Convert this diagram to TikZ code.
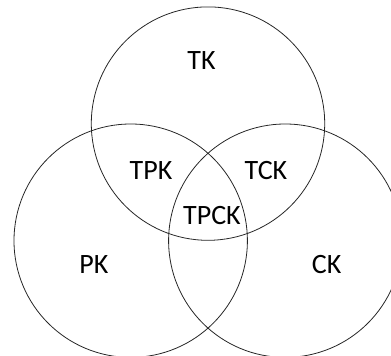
\documentclass[tikz,border=0pt]{standalone}
\usepackage{fontspec}
\setmainfont{Carlito}
\begin{document}
\begin{tikzpicture}[x=1pt,y=-1pt,
  setcircle/.style={circle,draw=black!85,line width=0.8pt,minimum size=233.4pt,inner sep=0pt},
  setlabel/.style={font=\fontsize{28}{30}\selectfont,inner sep=0pt,text=black}]
  \useasboundingbox (0,0) rectangle (391,356);
  \clip (0,0) rectangle (391,356);
  % the three sets
  \node[setcircle] (T) at (208,123.6) {};
  \node[setcircle] (P) at (130.7,240.7) {};
  \node[setcircle] (C) at (285.3,240.7) {};
  % region labels
  \node[setlabel] (tk)   at (201.5,61)  {TK};
  \node[setlabel] (tpk)  at (151,170.5) {TPK};
  \node[setlabel] (tck)  at (266,170.5) {TCK};
  \node[setlabel] (tpck) at (212,215.8) {TPCK};
  \node[setlabel] (pk)   at (94,265)    {PK};
  \node[setlabel] (ck)   at (326.7,265) {CK};
\end{tikzpicture}
\end{document}
